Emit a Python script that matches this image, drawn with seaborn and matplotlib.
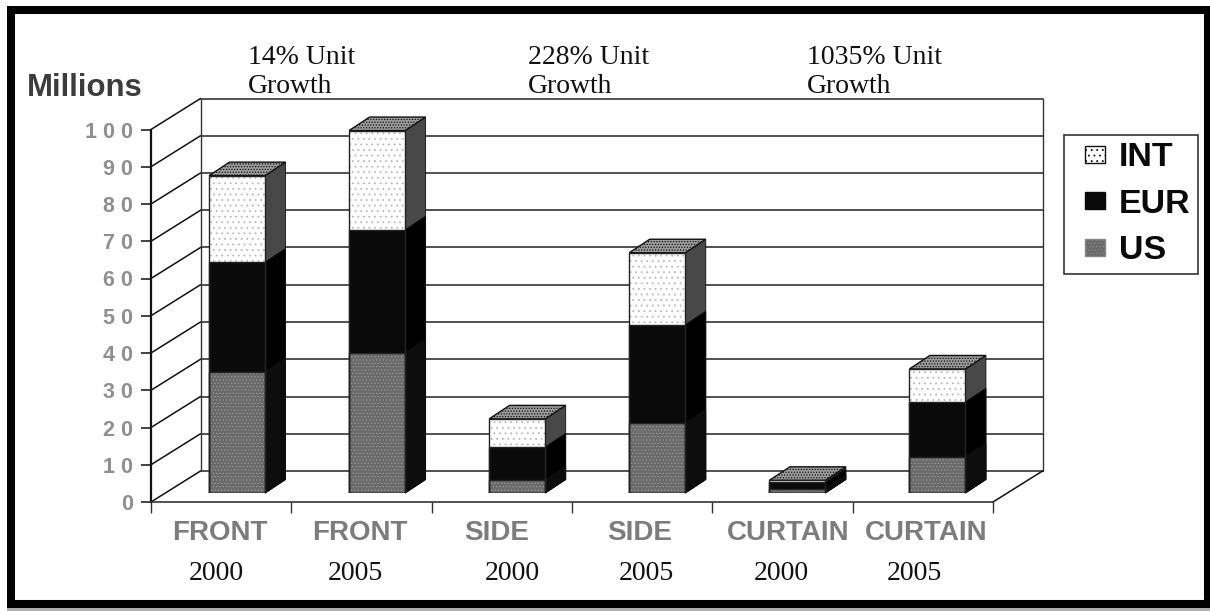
import pandas as pd
import seaborn as sns
import matplotlib
matplotlib.use("Agg")
import matplotlib.pyplot as plt
from matplotlib.legend_handler import HandlerPatch
from matplotlib.patches import Polygon, Rectangle, Patch

# data
categories = ["FRONT", "FRONT", "SIDE", "SIDE", "CURTAIN", "CURTAIN"]
years = ["2000", "2005", "2000", "2005", "2000", "2005"]
us = [32.5, 37.6, 3.5, 18.8, 1.2, 9.7]
eur_top = [62.0, 70.7, 12.4, 45.2, 2.9, 24.5]
int_top = [85.2, 97.3, 19.9, 64.5, 3.4, 33.3]
y_ticks = [0, 10, 20, 30, 40, 50, 60, 70, 80, 90, 100]
y_labels = ["0", "1 0", "2 0", "3 0", "4 0", "5 0", "6 0", "7 0", "8 0", "9 0", "1 0 0"]
growth = ["14% Unit\nGrowth", "228% Unit\nGrowth", "1035% Unit\nGrowth"]

df = pd.DataFrame({"label": [c + " " + y for c, y in zip(categories, years)],
                   "US": us, "EUR": eur_top, "INT": int_top})

sns.set_theme(style="white")
plt.rcParams['font.family'] = ['Liberation Sans', 'DejaVu Sans']
plt.rcParams['hatch.linewidth'] = 0.6

W, H = 1210, 611
fig = plt.figure(figsize=(W / 100, H / 100), dpi=100, facecolor="white")


def box(x0, x1, y_bottom, y_top):
    return [x0 / W, 1 - y_bottom / H, (x1 - x0) / W, (y_bottom - y_top) / H]


# front plane of the chart
ax = fig.add_axes(box(151, 993, 502, 129.5))
ax.set_xlim(-0.5, 5.5)
ax.set_ylim(0, 100)
ax.patch.set_alpha(0)
for s in ["top", "right"]:
    ax.spines[s].set_visible(False)
ax.spines["left"].set_linewidth(1.6)
ax.spines["left"].set_color("#111111")
ax.spines["bottom"].set_linewidth(1.2)
ax.spines["bottom"].set_color("#333333")

ax.set_yticks(y_ticks, y_labels, fontsize=15.5, fontweight="bold", color="#8f8f8f")
ax.set_xticks([-0.5, 0.5, 1.5, 2.5, 3.5, 4.5, 5.5], [""] * 7)
ax.tick_params(axis="y", direction="out", length=7, width=1.2, color="#222222", pad=6, left=True)
ax.tick_params(axis="x", direction="out", length=8, width=1.0, color="#333333", bottom=True)

# walls: side lines and back grid, offset by the chart depth
dx = 49.5 / 140.33
dy = 31 / 3.725
for v in y_ticks:
    ax.plot([-0.5, -0.5 + dx], [v, v + dy], color="#111111", lw=1.1, clip_on=False, zorder=1)
    ax.plot([-0.5 + dx, 5.5 + dx], [v + dy, v + dy], color="#222222", lw=1.1, clip_on=False, zorder=1)
ax.plot([-0.5 + dx, -0.5 + dx], [dy, 100 + dy], color="#333333", lw=1.0, clip_on=False, zorder=1)
ax.plot([5.5 + dx, 5.5 + dx], [dy, 100 + dy], color="#333333", lw=1.0, clip_on=False, zorder=1)
ax.plot([5.5, 5.5 + dx], [0, dy], color="#111111", lw=1.1, clip_on=False, zorder=1)

# bars sit on a plane a little behind the front axis
ax_bars = fig.add_axes(box(151 + 16, 993 + 14.5, 493, 129.5 - 9))
ax_bars.patch.set_alpha(0)

styles = [("INT", "#ffffff", "#b8b8b8", "...", "#484848"),
          ("EUR", "#0a0a0a", "#0a0a0a", "", "#000000"),
          ("US", "#6a6a6a", "#949494", ".....", "#0c0c0c")]

bar_dx = 20.5 / 140.33
bar_dy = 13.5 / 3.725
for col, face, dots, hatch, side in styles:
    n_before = len(ax_bars.patches)
    sns.barplot(data=df, x="label", y=col, color=face, saturation=1, width=0.4, ax=ax_bars, legend=False)
    for p in ax_bars.patches[n_before:]:
        x, w, h = p.get_x(), p.get_width(), p.get_height()
        p.set_facecolor(face)
        p.set_edgecolor(dots)
        p.set_hatch(hatch)
        p.set_linewidth(0)
        p.set_zorder(3)
        ax_bars.add_patch(Rectangle((x, 0), w, h, fill=False, ec="#222222", lw=1.0, zorder=4))
        ax_bars.add_patch(Polygon([(x + w, 0), (x + w + bar_dx, bar_dy), (x + w + bar_dx, h + bar_dy), (x + w, h)],
                                  fc=side, ec="#111111", lw=0.6, zorder=2, clip_on=False))
        if col == "INT":
            ax_bars.add_patch(Polygon([(x, h), (x + bar_dx, h + bar_dy), (x + w + bar_dx, h + bar_dy), (x + w, h)],
                                      fc="#9c9c9c", ec="#111111", lw=1.0, hatch="......", zorder=2, clip_on=False))
ax_bars.set_xlim(-0.5, 5.5)
ax_bars.set_ylim(0, (493 - 120.5) / 3.725)
ax_bars.axis("off")

# category and year labels
cat_x = [220, 360, 497, 640, 788, 926]
year_x = [216, 355, 512, 646, 781, 914]
for c, y, cx, yx in zip(categories, years, cat_x, year_x):
    fig.text(cx / W, 1 - 533 / H, c, fontsize=20, color="#7c7c7c", fontweight="bold", ha="center", va="center")
    fig.text(yx / W, 1 - 574 / H, y, fontsize=20, color="#111111", family="Liberation Serif", ha="center", va="center")

for g, gx in zip(growth, [248, 528, 807]):
    fig.text(gx / W, 1 - 72 / H, g, fontsize=20, color="#111111", family="Liberation Serif",
             ha="left", va="center", linespacing=1.22)

fig.text(27 / W, 1 - 88 / H, "Millions", fontsize=22.4, fontweight="bold", color="#3c3c3c", ha="left", va="center")


# small square at the right end of the handle space, as in the picture
def small_square(legend, orig_handle, xdescent, ydescent, width, height, fontsize):
    return Rectangle((width - 14.4 - xdescent, (height - 12.2) / 2 - ydescent), 14.4, 12.2)


handles = [Patch(fc="white", ec="#111111", hatch="...", label="INT"),
           Patch(fc="#0a0a0a", ec="#0a0a0a", label="EUR"),
           Patch(fc="#6a6a6a", ec="#888888", hatch=".....", label="US")]
leg = fig.legend(handles=handles, loc="upper left", bbox_to_anchor=(1064 / W, 1 - 135 / H), fancybox=False,
                 edgecolor="#333333", facecolor="white", framealpha=1, borderaxespad=0, borderpad=0.22,
                 labelspacing=0.45, handlelength=0.98, handletextpad=0.41,
                 handler_map={Patch: HandlerPatch(patch_func=small_square)},
                 prop={"family": "Liberation Sans", "weight": "bold", "size": 24.5})
leg.get_frame().set_linewidth(1.2)
for t in leg.get_texts():
    t.set_color("#0a0a0a")

# thick black frame round the slide, with the soft grey shadow under it
fig.add_artist(Rectangle((7 / W, 0), (W - 7) / W, 3 / H, transform=fig.transFigure, fc="#b0b0b0", ec="none"))
fig.add_artist(Rectangle((11 / W, 1 - 604 / H), (1208 - 11) / W, (604 - 10) / H, transform=fig.transFigure,
                         fill=False, ec="black", lw=5.8))

fig.savefig("out.png", dpi=100)
